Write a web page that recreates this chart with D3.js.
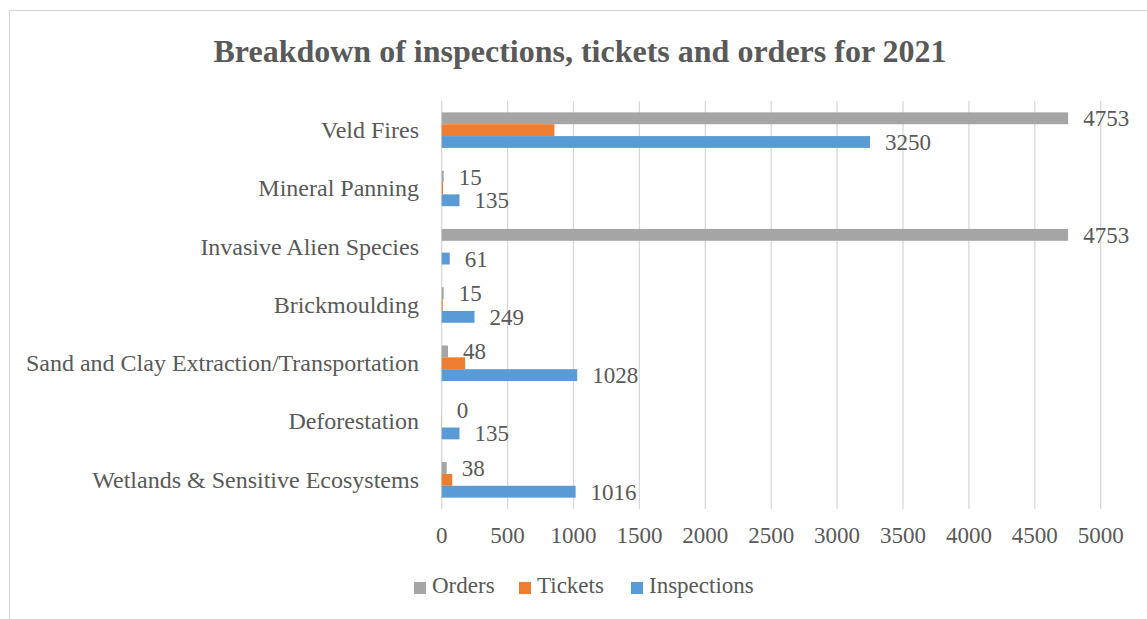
<!DOCTYPE html>
<html>
<head>
<meta charset="utf-8">
<script src="https://d3js.org/d3.v7.min.js"></script>
<style>
  body { margin: 0; background: #fff; }
  text { font-family: "Liberation Serif", "Times New Roman", serif; fill: #595959; }
  .grid line { stroke: #d9d9d9; stroke-width: 1.3px; }
</style>
</head>
<body>
<div id="chart"></div>
<script>
var categories = ["Veld Fires", "Mineral Panning", "Invasive Alien Species", "Brickmoulding",
                  "Sand and Clay Extraction/Transportation", "Deforestation", "Wetlands & Sensitive Ecosystems"];
var seriesNames = ["Orders", "Tickets", "Inspections"];
var orders = [4753, 15, 4753, 15, 48, 0, 38];
var tickets = [855, 10, 0, 8, 178, 2, 80];
var inspections = [3250, 135, 61, 249, 1028, 135, 1016];
var xTicks = [0, 500, 1000, 1500, 2000, 2500, 3000, 3500, 4000, 4500, 5000];
var colors = ["#a5a5a5", "#ed7d31", "#5b9bd5"];
var labelled = [true, false, true];

var width = 1147, height = 619;
var plotLeft = 441.7, plotRight = 1100.7, plotTop = 101, plotBottom = 509;
var fontSize = 23;

var values = [orders, tickets, inspections];

var svg = d3.select("#chart").append("svg")
    .attr("width", width)
    .attr("height", height);

// chart border
svg.append("rect")
    .attr("x", 9.5).attr("y", 10.5)
    .attr("width", width + 10).attr("height", height + 10)
    .attr("fill", "#fff")
    .attr("stroke", "#d9d9d9")
    .attr("stroke-width", 1.3);

svg.append("text")
    .attr("x", 580).attr("y", 62)
    .attr("text-anchor", "middle")
    .attr("font-size", 32)
    .attr("font-weight", "bold")
    .text("Breakdown of inspections, tickets and orders for 2021");

var x = d3.scaleLinear().domain([0, 5000]).range([plotLeft, plotRight]);
var y = d3.scaleBand().domain(categories).range([plotTop, plotBottom]).paddingInner(0.39).paddingOuter(0.195);
var ySub = d3.scaleBand().domain(seriesNames).range([0, y.bandwidth()]);

// gridlines
svg.append("g").attr("class", "grid")
    .selectAll("line")
    .data(xTicks)
    .enter().append("line")
    .attr("x1", d => x(d)).attr("x2", d => x(d))
    .attr("y1", plotTop).attr("y2", plotBottom);

// x tick labels
svg.append("g")
    .selectAll("text")
    .data(xTicks)
    .enter().append("text")
    .attr("x", d => x(d))
    .attr("y", 543)
    .attr("text-anchor", "middle")
    .attr("font-size", fontSize)
    .text(d => d);

// category labels
svg.append("g")
    .selectAll("text")
    .data(categories)
    .enter().append("text")
    .attr("x", 419)
    .attr("y", d => y(d) + y.bandwidth() / 2)
    .attr("dy", "0.33em")
    .attr("text-anchor", "end")
    .attr("font-size", 24)
    .text(d => d);

// bars + labels
for (let s = 0; s < seriesNames.length; s++) {
    var rows = categories.map((c, i) => ({cat: c, v: values[s][i]}));
    var g = svg.append("g");
    g.selectAll("rect")
        .data(rows)
        .enter().append("rect")
        .attr("x", x(0))
        .attr("y", d => y(d.cat) + ySub(seriesNames[s]))
        .attr("width", d => x(d.v) - x(0))
        .attr("height", ySub.bandwidth())
        .attr("fill", colors[s]);

    if (labelled[s]) {
        g.selectAll("text")
            .data(rows)
            .enter().append("text")
            .attr("x", d => x(d.v) + 15)
            .attr("y", d => y(d.cat) + ySub(seriesNames[s]) + ySub.bandwidth() / 2)
            .attr("dy", "0.35em")
            .attr("font-size", fontSize)
            .text(d => d.v);
    }
}

// legend
var legendX = [414, 519, 631];
var legend = svg.append("g")
    .selectAll("g")
    .data(seriesNames)
    .enter().append("g")
    .attr("transform", (d, i) => "translate(" + legendX[i] + ",582)");
legend.append("rect")
    .attr("width", 12).attr("height", 12)
    .attr("fill", (d, i) => colors[i]);
legend.append("text")
    .attr("x", 18).attr("y", 11)
    .attr("font-size", fontSize)
    .text(d => d);
</script>
</body>
</html>
